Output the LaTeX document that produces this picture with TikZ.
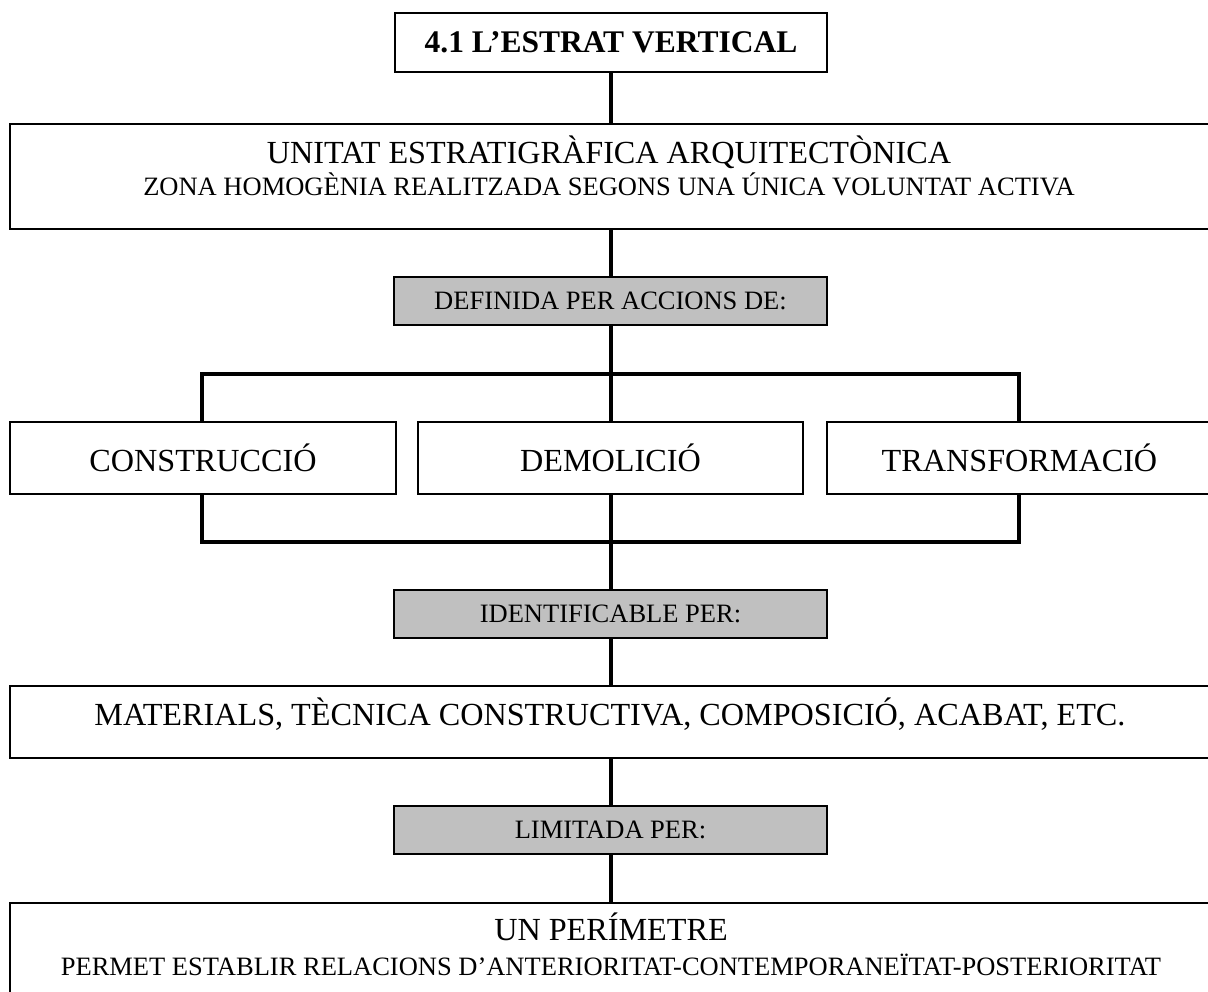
\documentclass[tikz,border=0pt]{standalone}
\usepackage{fontspec}
\setmainfont{Liberation Serif}
\definecolor{boxgray}{RGB}{192,192,192}
\begin{document}
\begin{tikzpicture}[x=1pt,y=-1pt,
  box/.style={draw=black,line width=2pt,fill=white,rectangle,inner sep=0pt,anchor=center},
  graybox/.style={box,fill=boxgray},
  big/.style={font=\fontsize{32.2}{38}\selectfont},
  small/.style={font=\fontsize{26.5}{32}\selectfont},
  conn/.style={line width=3.2pt,line cap=rect}]
\useasboundingbox (0,0) rectangle (1208,992);
\fill[white] (0,0) rectangle (1208,992);
% nodes
\node[box,line width=1.3pt,minimum width=432pt,minimum height=59pt,font=\bfseries\fontsize{31.5}{38}\selectfont] (title) at (611,42.5) {4.1 L’ESTRAT VERTICAL};
\node[box,minimum width=1202pt,minimum height=105pt] (ue) at (611,176.5) {};
\node[big,anchor=base] (uet) at (609,164) {UNITAT ESTRATIGRÀFICA ARQUITECTÒNICA};
\node[small,anchor=base] (ued) at (609,196) {ZONA HOMOGÈNIA REALITZADA SEGONS UNA ÚNICA VOLUNTAT ACTIVA};
\node[graybox,small,minimum width=433pt,minimum height=48pt] (def) at (610.5,301) {DEFINIDA PER ACCIONS DE:};
\node[box,big,minimum width=386pt,minimum height=72pt] (cons) at (203,458) {CONSTRUCCIÓ};
\node[box,big,minimum width=385pt,minimum height=72pt] (dem) at (610.5,458) {DEMOLICIÓ};
\node[box,big,minimum width=385pt,minimum height=72pt] (trans) at (1019.5,458) {TRANSFORMACIÓ};
\node[graybox,small,minimum width=433pt,minimum height=48pt] (ident) at (610.5,614) {IDENTIFICABLE PER:};
\node[box,minimum width=1202pt,minimum height=72pt] (mat) at (611,722) {};
\node[big,anchor=base] (matt) at (610,725) {MATERIALS, TÈCNICA CONSTRUCTIVA, COMPOSICIÓ, ACABAT, ETC.};
\node[graybox,small,minimum width=433pt,minimum height=48pt] (lim) at (610.5,830) {LIMITADA PER:};
\node[box,minimum width=1202pt,minimum height=110pt] (per) at (611,958) {};
\node[big,anchor=base] (pert) at (611,940) {UN PERÍMETRE};
\node[small,anchor=base] (perd) at (611,975) {PERMET ESTABLIR RELACIONS D’ANTERIORITAT-CONTEMPORANEÏTAT-POSTERIORITAT};
% connectors
\coordinate (hubtop) at (611,374);
\coordinate (hubbot) at (611,542);
\draw[conn] (title.south -| hubtop) -- (ue.north -| hubtop);
\draw[conn] (ue.south -| hubtop) -- (def.north -| hubtop);
\draw[conn] (def.south -| hubtop) -- (dem.north -| hubtop);
\draw[conn] (cons.north -| 202,0) -- (202,374) -- (1019,374) -- (trans.north -| 1019,0);
\draw[conn] (cons.south -| 202,0) -- (202,542) -- (1019,542) -- (trans.south -| 1019,0);
\draw[conn] (dem.south -| hubbot) -- (ident.north -| hubbot);
\draw[conn] (ident.south -| hubbot) -- (mat.north -| hubbot);
\draw[conn] (mat.south -| hubbot) -- (lim.north -| hubbot);
\draw[conn] (lim.south -| hubbot) -- (per.north -| hubbot);
\end{tikzpicture}
\end{document}
